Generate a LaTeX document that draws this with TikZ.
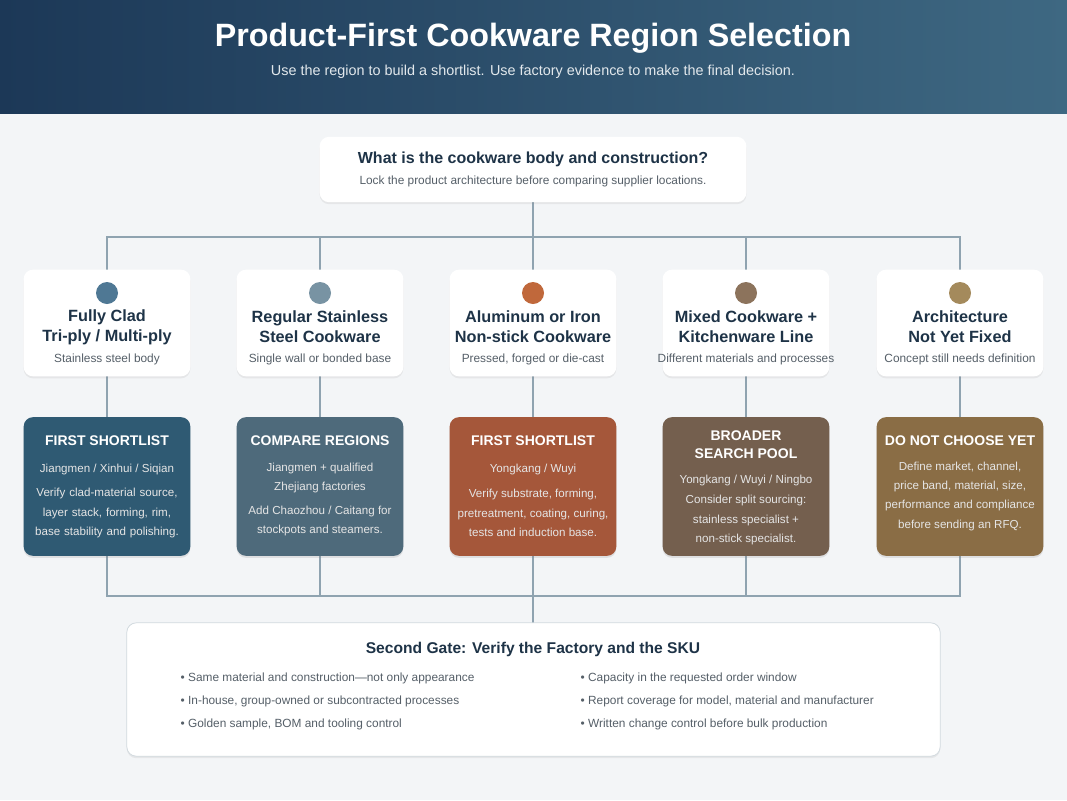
\documentclass[tikz,border=0pt]{standalone}
\usepackage{fontspec}
\setmainfont{Liberation Sans}
\usetikzlibrary{shadows}
\definecolor{bg}{HTML}{F3F5F7}
\definecolor{hdA}{HTML}{1C3857}
\definecolor{hdB}{HTML}{3E6882}
\definecolor{ink}{HTML}{1E3347}
\definecolor{sub}{HTML}{555F68}
\definecolor{wire}{HTML}{8FA3B0}
\definecolor{cA}{HTML}{2F5A73}\definecolor{cB}{HTML}{4E6A7B}\definecolor{cC}{HTML}{A5573A}\definecolor{cD}{HTML}{745F4E}\definecolor{cE}{HTML}{8A6D45}
\definecolor{dA}{HTML}{4F7894}\definecolor{dB}{HTML}{7893A3}\definecolor{dC}{HTML}{C0683B}\definecolor{dD}{HTML}{8C735C}\definecolor{dE}{HTML}{A48A5C}
\tikzset{
 card/.style={draw=none,fill=white,rounded corners=7pt,drop shadow={shadow xshift=0pt,shadow yshift=-1.5pt,opacity=.12}},
 col/.style={draw=none,rounded corners=7pt,drop shadow={shadow xshift=0pt,shadow yshift=-1.5pt,opacity=.18}},
 wire/.style={draw=wire,line width=2.2pt},
 ttl/.style={font=\bfseries\fontsize{12}{15}\selectfont,text=ink,align=center},
 sm/.style={font=\fontsize{8.9}{11}\selectfont,text=sub,align=center},
 wt/.style={font=\bfseries\fontsize{10.5}{13}\selectfont,text=white,align=center},
 wb/.style={font=\fontsize{8.7}{14.5}\selectfont,text=white!90!black,align=center},
 bl/.style={font=\fontsize{8.9}{11}\selectfont,text=sub,anchor=west},
}
\begin{document}
\begin{tikzpicture}[x=0.75pt,y=-0.75pt]
\useasboundingbox (0,0) rectangle (1067,800);
\fill[bg] (0,0) rectangle (1067,800);
\shade[left color=hdA,right color=hdB] (0,0) rectangle (1067,113);
\node[font=\bfseries\fontsize{24.2}{28}\selectfont,text=white] (title) at (533,38) {Product-First Cookware Region Selection};
\node[font=\fontsize{10.8}{13}\selectfont,text=white!85!hdB] (subt) at (533,72) {Use the region to build a shortlist. Use factory evidence to make the final decision.};
% wires
\draw[wire] (533,200) -- (533,237);
\draw[wire] (107,270) |- (960,237) -- (960,270);
\foreach \x in {320,533,746} \draw[wire] (\x,237) -- (\x,270);
\foreach \x in {107,320,533,746,960} \draw[wire] (\x,376) -- (\x,417);
\draw[wire] (107,556) |- (960,596) -- (960,556);
\foreach \x in {320,533,746} \draw[wire] (\x,556) -- (\x,596);
\draw[wire] (533,596) -- (533,623);
% top box
\node[card,minimum width=320pt,minimum height=49pt] (q) at (533,169.5) {};
\node[ttl] (qt) at (533,159) {What is the cookware body and construction?};
\node[sm] (qs) at (533,181) {Lock the product architecture before comparing supplier locations.};
% categories
\foreach \x/\d/\t/\s [count=\i] in {
 107/dA/{Fully Clad\\Tri-ply / Multi-ply}/{Stainless steel body},
 320/dB/{Regular Stainless\\Steel Cookware}/{Single wall or bonded base},
 533/dC/{Aluminum or Iron\\Non-stick Cookware}/{Pressed, forged or die-cast},
 746/dD/{Mixed Cookware +\\Kitchenware Line}/{Different materials and processes},
 960/dE/{Architecture\\Not Yet Fixed}/{Concept still needs definition}}{
 \node[card,minimum width=125pt,minimum height=80pt] (cat\i) at (\x,323) {};
 \fill[\d] (\x,293) circle (11);
 \node[ttl,font=\bfseries\fontsize{12.2}{15}\selectfont] (ct\i) at (\x,327) {\t};
 \node[sm] (cs\i) at (\x,359) {\s};
}
% colored boxes
\node[col,fill=cA,minimum width=125pt,minimum height=104pt] (b1) at (107,486.5) {};
\node[wt] at (107,441) {FIRST SHORTLIST};
\node[wb] at (107,469) {Jiangmen / Xinhui / Siqian};
\node[wb,text width=120pt] at (107,513) {Verify clad-material source,\\layer stack, forming, rim,\\base stability and polishing.};
\node[col,fill=cB,minimum width=125pt,minimum height=104pt] (b2) at (320,486.5) {};
\node[wt] at (320,441) {COMPARE REGIONS};
\node[wb] at (320,478) {Jiangmen + qualified\\Zhejiang factories};
\node[wb] at (320,521) {Add Chaozhou / Caitang for\\stockpots and steamers.};
\node[col,fill=cC,minimum width=125pt,minimum height=104pt] (b3) at (533,486.5) {};
\node[wt] at (533,441) {FIRST SHORTLIST};
\node[wb] at (533,469) {Yongkang / Wuyi};
\node[wb] at (533,513) {Verify substrate, forming,\\pretreatment, coating, curing,\\tests and induction base.};
\node[col,fill=cD,minimum width=125pt,minimum height=104pt] (b4) at (746,486.5) {};
\node[wt,font=\bfseries\fontsize{10.5}{13.5}\selectfont] at (746,445) {BROADER\\SEARCH POOL};
\node[wb] at (746,480) {Yongkang / Wuyi / Ningbo};
\node[wb] at (746,520) {Consider split sourcing:\\stainless specialist +\\non-stick specialist.};
\node[col,fill=cE,minimum width=125pt,minimum height=104pt] (b5) at (960,486.5) {};
\node[wt] at (960,441) {DO NOT CHOOSE YET};
\node[wb] at (960,496) {Define market, channel,\\price band, material, size,\\performance and compliance\\before sending an RFQ.};
% bottom
\node[card,draw=wire!40,line width=0.6pt,minimum width=610pt,minimum height=100pt] (gate) at (533.5,689.5) {};
\node[ttl,font=\bfseries\fontsize{11.7}{14}\selectfont] at (533,649) {Second Gate: Verify the Factory and the SKU};
\node[bl] at (176,678) {• Same material and construction—not only appearance};
\node[bl] at (176,701) {• In-house, group-owned or subcontracted processes};
\node[bl] at (176,724) {• Golden sample, BOM and tooling control};
\node[bl] at (576,678) {• Capacity in the requested order window};
\node[bl] at (576,701) {• Report coverage for model, material and manufacturer};
\node[bl] at (576,724) {• Written change control before bulk production};
\end{tikzpicture}
\end{document}
